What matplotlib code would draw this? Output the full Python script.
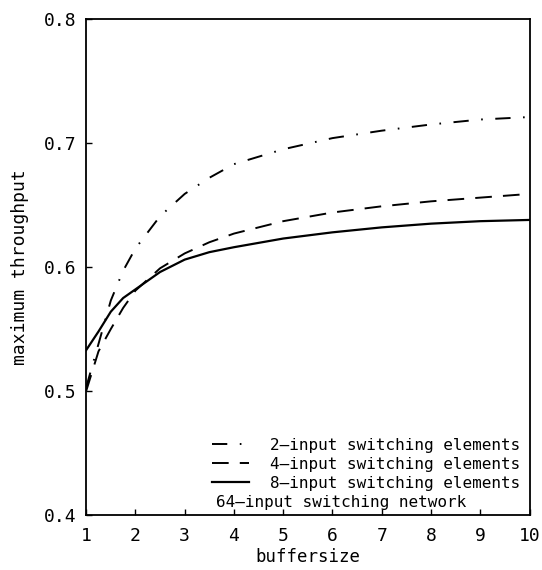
import matplotlib
matplotlib.use("Agg")
from matplotlib import pyplot as plt

plt.rcParams['font.family'] = ['DejaVu Sans Mono']
plt.rcParams['lines.scale_dashes'] = False

# values
buffersize = [1, 1.25, 1.5, 1.75, 2, 2.5, 3, 3.5, 4, 5, 6, 7, 8, 9, 10]
tp_2input = [0.503, 0.538, 0.573, 0.597, 0.615, 0.641, 0.659, 0.672, 0.683, 0.695, 0.704, 0.710, 0.715, 0.719, 0.721]
tp_4input = [0.500, 0.532, 0.550, 0.567, 0.581, 0.599, 0.611, 0.620, 0.627, 0.637, 0.644, 0.649, 0.653, 0.656, 0.659]
tp_8input = [0.533, 0.548, 0.564, 0.575, 0.582, 0.596, 0.606, 0.612, 0.616, 0.623, 0.628, 0.632, 0.635, 0.637, 0.638]

labels = ["2\u2014input switching elements",
          "4\u2014input switching elements",
          "8\u2014input switching elements"]
note = "64\u2014input switching network"

x_ticks = [1, 2, 3, 4, 5, 6, 7, 8, 9, 10]
y_ticks = [0.4, 0.5, 0.6, 0.7, 0.8]

fig = plt.figure(figsize=(5.42, 5.70), dpi=100)
ax = fig.add_axes([0.159, 0.0965, 0.818, 0.870])

ax.plot(buffersize, tp_2input, color='black', lw=1.4, dashes=(11, 9, 1.2, 9), label=labels[0])
ax.plot(buffersize, tp_4input, color='black', lw=1.4, dashes=(12, 8), label=labels[1])
ax.plot(buffersize, tp_8input, color='black', lw=1.6, label=labels[2])

ax.set_xlim(1, 10)
ax.set_ylim(0.4, 0.8)
ax.set_xticks(x_ticks)
ax.set_yticks(y_ticks)
ax.set_yticklabels([f"{v:.1f}" for v in y_ticks])
ax.tick_params(direction='in', length=4, width=1, labelsize=13, top=False, right=False)
ax.tick_params(axis='x', pad=9)
ax.tick_params(axis='y', pad=7)
for s in ax.spines.values():
    s.set_linewidth(1.3)

ax.set_xlabel("buffersize", fontsize=12.5, labelpad=2)
ax.set_ylabel("maximum throughput", fontsize=13, labelpad=11)

leg = ax.legend(loc='lower right', bbox_to_anchor=(1.0, 0.03), frameon=False,
                fontsize=11.5, handlelength=2.3, handletextpad=1.3, labelspacing=0.25,
                borderaxespad=0.2)
ax.text(0.292, 0.026, note, transform=ax.transAxes, fontsize=11.5, ha='left', va='center')

fig.savefig("out.png", dpi=100)
